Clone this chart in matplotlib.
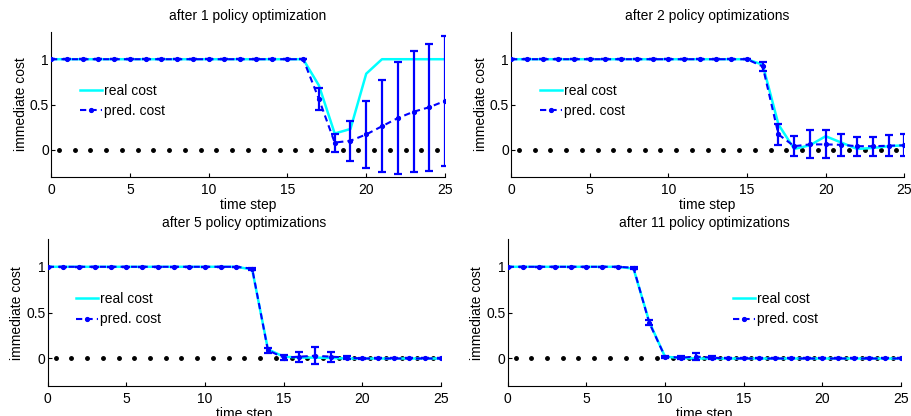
import numpy as np
import matplotlib
matplotlib.use("Agg")
import matplotlib.pyplot as plt

plt.rcParams['font.family'] = ['Liberation Sans', 'DejaVu Sans']
plt.rcParams['font.size'] = 10

time_steps = list(range(26))

titles = ["after 1 policy optimization", "after 2 policy optimizations",
          "after 5 policy optimizations", "after 11 policy optimizations"]

real1 = [1, 1, 1, 1, 1, 1, 1, 1, 1, 1, 1, 1, 1, 1, 1, 1, 1,
         0.71, 0.18, 0.23, 0.84, 1.0, 1.0, 1.0, 1.0, 1.0]
pred1 = [1, 1, 1, 1, 1, 1, 1, 1, 1, 1, 1, 1, 1, 1, 1, 1, 1,
         0.56, 0.08, 0.10, 0.17, 0.26, 0.35, 0.42, 0.47, 0.54]
std1 = [0, 0, 0, 0, 0, 0, 0, 0, 0, 0, 0, 0, 0, 0, 0, 0, 0,
        0.12, 0.10, 0.22, 0.37, 0.51, 0.62, 0.67, 0.70, 0.72]

real2 = [1, 1, 1, 1, 1, 1, 1, 1, 1, 1, 1, 1, 1, 1, 1, 1,
         0.94, 0.28, 0.01, 0.05, 0.15, 0.08, 0.01, 0.02, 0.04, 0.05]
pred2 = [1, 1, 1, 1, 1, 1, 1, 1, 1, 1, 1, 1, 1, 1, 1, 1,
         0.92, 0.17, 0.04, 0.06, 0.06, 0.055, 0.04, 0.04, 0.045, 0.05]
std2 = [0, 0, 0, 0, 0, 0, 0, 0, 0, 0, 0, 0, 0, 0, 0, 0,
        0.045, 0.115, 0.11, 0.155, 0.155, 0.125, 0.105, 0.105, 0.115, 0.12]

real3 = [1, 1, 1, 1, 1, 1, 1, 1, 1, 1, 1, 1, 1,
         0.97, 0.10, 0.02, 0.01, 0.01, 0.005, 0, 0, 0, 0, 0, 0, 0]
pred3 = [1, 1, 1, 1, 1, 1, 1, 1, 1, 1, 1, 1, 1,
         0.98, 0.09, 0.01, 0.02, 0.03, 0.02, 0.01, 0, 0, 0, 0, 0, 0]
std3 = [0, 0, 0, 0, 0, 0, 0, 0, 0, 0, 0, 0, 0,
        0.01, 0.025, 0.03, 0.055, 0.09, 0.055, 0.015, 0.005, 0, 0, 0, 0, 0]

real4 = [1, 1, 1, 1, 1, 1, 1, 1,
         0.98, 0.40, 0.02, 0.005, 0, 0, 0, 0, 0, 0, 0, 0, 0, 0, 0, 0, 0, 0]
pred4 = [1, 1, 1, 1, 1, 1, 1, 1,
         0.99, 0.39, 0.02, 0.01, 0.02, 0.01, 0, 0, 0, 0, 0, 0, 0, 0, 0, 0, 0, 0]
std4 = [0, 0, 0, 0, 0, 0, 0, 0,
        0.01, 0.03, 0.01, 0.02, 0.04, 0.02, 0, 0, 0, 0, 0, 0, 0, 0, 0, 0, 0, 0]

zero_dots_x = [i + 0.5 for i in range(25)]
zero_dots_y = [0] * 25

x_ticks = [0, 5, 10, 15, 20, 25]
y_ticks = [0, 0.5, 1]
y_ticklabels = ["0", "0.5", "1"]

panels = [
    (real1, pred1, std1, [0.056, 0.5745, 0.4325, 0.3485], 0.074),
    (real2, pred2, std2, [0.561, 0.5745, 0.4316, 0.3485], 0.074),
    (real3, pred3, std3, [0.0524, 0.0721, 0.4316, 0.3527], 0.072),
    (real4, pred4, std4, [0.5573, 0.0721, 0.4316, 0.3527], 0.574),
]

fig = plt.figure(figsize=(9.11, 4.16), dpi=100)

for (real, pred, std, rect, legx), title in zip(panels, titles):
    ax = fig.add_axes(rect)
    ax.plot(zero_dots_x, zero_dots_y, linestyle='none', marker='.',
            color='black', markersize=5, zorder=1)
    l1, = ax.plot(time_steps, real, color=(0, 1, 1), lw=1.8, zorder=2)
    ax.errorbar(time_steps, pred, yerr=std, fmt='none', ecolor=(0, 0, 1),
                elinewidth=1.6, capsize=2.7, capthick=1.6, zorder=3)
    l2, = ax.plot(time_steps, pred, color=(0, 0, 1), lw=1.5, ls=(0, (3, 2)),
                  marker='.', markersize=5.5, zorder=4)
    ax.set_xlim(0, 25)
    ax.set_ylim(-0.3, 1.3)
    ax.set_xticks(x_ticks)
    ax.set_yticks(y_ticks)
    ax.set_yticklabels(y_ticklabels)
    for s in ['top', 'right']:
        ax.spines[s].set_visible(False)
    for s in ['left', 'bottom']:
        ax.spines[s].set_linewidth(0.8)
    ax.tick_params(direction='in', length=3, width=0.8, labelsize=10)
    ax.tick_params(axis='x', pad=4)
    ax.tick_params(axis='y', pad=1.5)
    ax.set_title(title, fontsize=10, pad=8.5)
    ax.set_xlabel("time step", fontsize=10, labelpad=1)
    ax.set_ylabel("immediate cost", fontsize=10, labelpad=1.5)
    ax.legend([l1, l2], ["real cost", "pred. cost"], loc='center left',
              bbox_to_anchor=(legx, 0.523), frameon=False, borderpad=0,
              borderaxespad=0, handlelength=1.58, handletextpad=0.15,
              labelspacing=0.45, fontsize=10)

fig.savefig("out.png", dpi=100)
